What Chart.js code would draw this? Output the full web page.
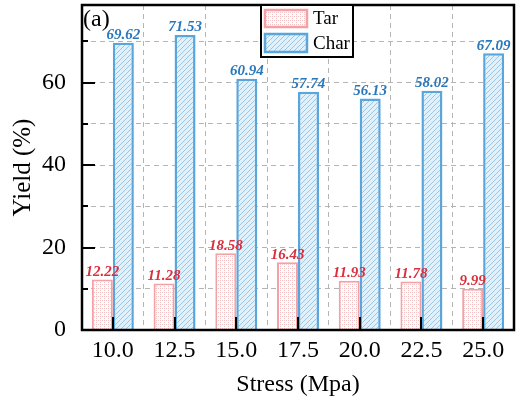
<!DOCTYPE html>
<html>
<head>
<meta charset="utf-8">
<script src="https://cdn.jsdelivr.net/npm/chart.js@4/dist/chart.umd.min.js"></script>
<style>
html,body{margin:0;padding:0;background:#fff;}
#wrap{width:519px;height:399px;}
</style>
</head>
<body>
<div id="wrap"><canvas id="c" width="519" height="399"></canvas></div>
<script>
// ---- data ----
const categories = ['10.0','12.5','15.0','17.5','20.0','22.5','25.0'];
const tarValues  = [12.22, 11.28, 18.58, 16.43, 11.93, 11.78, 9.99];
const charValues = [69.62, 71.53, 60.94, 57.74, 56.13, 58.02, 67.09];
const seriesNames = ['Tar', 'Char'];
const yMin = 0, yMax = 78.8, yStep = 10, yLabelStep = 20;
const panelLabel = '(a)';
const xTitle = 'Stress (Mpa)';
const yTitle = 'Yield (%)';

const SERIF = '"Liberation Serif", "Times New Roman", serif';

function makeTarPattern(){
  const c = document.createElement('canvas'); c.width = 4; c.height = 4;
  const g = c.getContext('2d');
  g.fillStyle = '#ffffff'; g.fillRect(0,0,4,4);
  g.fillStyle = '#f6c2c4';
  g.fillRect(0,0,1,1); g.fillRect(2,0,1,1); g.fillRect(0,2,1,1);
  return g.createPattern(c,'repeat');
}
function makeCharPattern(){
  const c = document.createElement('canvas'); c.width = 5; c.height = 5;
  const g = c.getContext('2d');
  g.fillStyle = '#e2f0fa'; g.fillRect(0,0,5,5);
  g.strokeStyle = '#86bde6'; g.lineWidth = 0.8;
  for (const o of [-5,0,5]){
    g.beginPath(); g.moveTo(o,5); g.lineTo(o+5,0); g.stroke();
  }
  return g.createPattern(c,'repeat');
}
const tarFill = makeTarPattern();
const charFill = makeCharPattern();
const tarBorder = '#f2a2a6';
const charBorder = '#5aa5dc';
const tarLabelColor = '#d8303e';
const charLabelColor = '#2a78bc';

const decorPlugin = {
  id: 'decor',
  afterDatasetsDraw(chart){
    const ctx = chart.ctx;
    const colors = [tarLabelColor, charLabelColor];
    ctx.save();
    ctx.font = 'italic bold 15px ' + SERIF;
    ctx.textAlign = 'center';
    ctx.textBaseline = 'bottom';
    chart.data.datasets.forEach((ds, di) => {
      const meta = chart.getDatasetMeta(di);
      ctx.fillStyle = colors[di];
      meta.data.forEach((el, i) => {
        ctx.fillText(ds.data[i].toFixed(2), el.x, el.y);
      });
    });
    ctx.restore();
  },
  afterDraw(chart){
    const ctx = chart.ctx;
    const a = chart.chartArea;
    const xs = chart.scales.x, ys = chart.scales.y;
    ctx.save();
    ctx.strokeStyle = '#000';
    // y ticks (inward)
    ctx.lineWidth = 2;
    for (let v = yMin; v <= yMax; v += yStep){
      const py = Math.round(ys.getPixelForValue(v));
      const len = (v % yLabelStep === 0) ? 13 : 6;
      ctx.beginPath(); ctx.moveTo(a.left, py); ctx.lineTo(a.left + len, py); ctx.stroke();
    }
    // x ticks at category centers (inward)
    for (let i = 0; i < categories.length; i++){
      const px = Math.round(xs.getPixelForValue(i));
      ctx.beginPath(); ctx.moveTo(px, a.bottom); ctx.lineTo(px, a.bottom - 13); ctx.stroke();
    }
    // frame
    ctx.lineWidth = 2.5;
    ctx.strokeRect(a.left, a.top, a.right - a.left, a.bottom - a.top);
    // panel label
    ctx.fillStyle = '#000';
    ctx.font = '24px ' + SERIF;
    ctx.textAlign = 'left';
    ctx.textBaseline = 'alphabetic';
    ctx.fillText(panelLabel, a.left + 1, a.top + 21);
    // legend
    const lx = 261, ly = a.top, lw = 92, lh = 52;
    ctx.fillStyle = '#fff';
    ctx.fillRect(lx, ly, lw, lh);
    ctx.lineWidth = 2;
    ctx.strokeStyle = '#000';
    ctx.strokeRect(lx, ly, lw, lh);
    const fills = [tarFill, charFill], borders = [tarBorder, charBorder];
    const rows = [[10, 17], [34, 18]];
    ctx.font = '19px ' + SERIF;
    ctx.textBaseline = 'middle';
    for (let k = 0; k < 2; k++){
      const sy = rows[k][0], sh = rows[k][1];
      ctx.fillStyle = fills[k];
      ctx.fillRect(lx + 4, sy, 42, sh);
      ctx.strokeStyle = borders[k];
      ctx.lineWidth = 2.5;
      ctx.strokeRect(lx + 4, sy, 42, sh);
      ctx.fillStyle = '#000';
      ctx.fillText(seriesNames[k], lx + 52, sy + sh / 2 + 1);
    }
    ctx.restore();
  }
};

new Chart(document.getElementById('c'), {
  type: 'bar',
  data: {
    labels: categories,
    datasets: [
      { label: seriesNames[0], data: tarValues, backgroundColor: tarFill, borderColor: tarBorder, borderWidth: 2 },
      { label: seriesNames[1], data: charValues, backgroundColor: charFill, borderColor: charBorder, borderWidth: 2.5 }
    ]
  },
  options: {
    responsive: false,
    animation: false,
    devicePixelRatio: 1,
    layout: { padding: { left: 0, top: 5, right: 5, bottom: 0 } },
    datasets: { bar: { categoryPercentage: 0.68, barPercentage: 1.0 } },
    plugins: { legend: { display: false }, tooltip: { enabled: false } },
    scales: {
      x: {
        afterFit: s => { s.height = 69; s.paddingLeft = 0; s.paddingRight = 0; },
        grid: { color: '#b4b4b4', lineWidth: 1, drawTicks: false, offset: true },
        border: { display: false, dash: [5, 4] },
        ticks: { color: '#000', font: { family: SERIF, size: 24 }, padding: 6, maxRotation: 0 },
        title: { display: true, text: xTitle, color: '#000', font: { family: SERIF, size: 24 }, padding: { top: 5, bottom: 0 } }
      },
      y: {
        min: yMin, max: yMax,
        afterFit: s => { s.width = 82; s.paddingTop = 0; s.paddingBottom = 0; },
        grid: { color: '#b4b4b4', lineWidth: 1, drawTicks: false },
        border: { display: false, dash: [5, 4] },
        ticks: {
          stepSize: yStep, includeBounds: false, color: '#000',
          font: { family: SERIF, size: 24 }, padding: 16,
          callback: v => (v % yLabelStep === 0 ? String(v) : '')
        },
        title: { display: true, text: yTitle, color: '#000', font: { family: SERIF, size: 25 }, padding: { top: 8, bottom: 0 } }
      }
    }
  },
  plugins: [decorPlugin]
});
</script>
</body>
</html>
